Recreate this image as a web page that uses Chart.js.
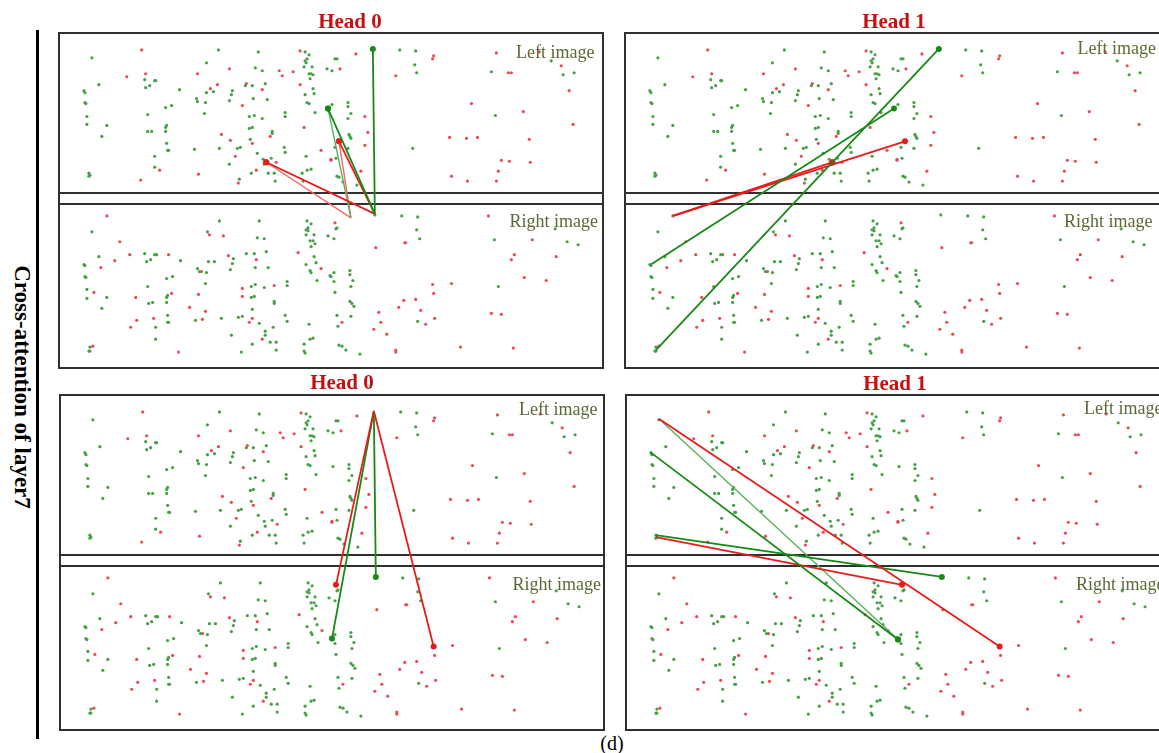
<!DOCTYPE html>
<html>
<head>
<meta charset="utf-8">
<script src="https://cdn.jsdelivr.net/npm/chart.js@4.4.1/dist/chart.umd.min.js"></script>
<style>
    html, body { margin: 0; padding: 0; background: #fff; }
    body {
        width: 1159px; height: 753px; overflow: hidden; position: relative;
        font-family: 'Liberation Serif', 'Times New Roman', serif;
    }
    canvas { position: absolute; }
    .title {
        position: absolute; font-weight: bold; font-size: 21px; line-height: 21px;
        color: #c41010; white-space: nowrap; transform: translateX(-50%);
    }
    .tag {
        position: absolute; font-size: 18px; line-height: 18px;
        color: #5a6a33; white-space: nowrap; transform: translateX(-100%);
    }
    #side {
        position: absolute; left: -178px; top: 375px; width: 400px; text-align: center;
        font-weight: bold; font-size: 23px; line-height: 24px; color: #000;
        transform: rotate(90deg);
    }
    #rule { position: absolute; left: 36px; top: 30px; width: 3px; height: 709px; background: #000; }
    #caption { position: absolute; left: 612px; top: 733px; font-size: 20px; line-height: 20px; transform: translateX(-50%); }
</style>
</head>
<body>
<div id="rule"></div>
<div id="side">Cross-attention of layer7</div>
<div id="caption">(d)</div>

<script>
// panel geometry (data units = pixels of the panel)
const PANEL_W = 546, PANEL_H = 337;
const LEFT_BOX_BOTTOM = 161, RIGHT_BOX_TOP = 172.5;
const LEFT_Y0 = -1, RIGHT_Y0 = 172;   // where y=0 of each image sits inside a panel
const PAD = 3;

// keypoints of the left image [x, y]
const leftGreen = [
    [33,26],[40,53],[25,59],[26,61],[26,71],[27,72],[28,85],[28,93],[48,94],[43,105],[30,142],[31,144],[30,145],
    [86,48],[96,49],[97,49],[87,56],[91,54],[89,83],[89,100],[93,100],[107,76],[113,74],[108,94],[107,96],[107,100],
    [108,112],[109,119],[110,119],[96,125],[96,136],[121,58],[136,118],
    [148,31],[160,18],[138,67],[139,70],[148,61],[155,60],[147,71],[146,82],[161,117],[171,133],[173,63],[174,59],
    [171,69],[179,117],[182,116],[181,148],
    [200,20],[197,36],[204,39],[187,54],[194,54],[207,52],[195,67],[209,68],[191,85],[196,84],[204,87],[191,97],
    [194,96],[214,100],[214,102],[192,108],[199,122],[205,128],[213,127],[206,133],[193,142],[210,142],[216,142],
    [217,150],[227,81],[227,85],[226,116],[227,121],
    [247,20],[251,23],[249,27],[247,29],[248,31],[246,35],[254,35],[251,42],[253,42],[255,43],[252,47],[255,57],
    [256,62],[247,63],[249,71],[251,72],[257,81],[269,37],[274,73],[248,125],[249,139],[253,138],[244,142],[245,150],
    [277,27],[279,27],[274,39],[290,71],[290,75],[293,82],[290,87],[291,103],[292,105],[293,107],[277,116],[290,117],
    [278,127],[279,145],[281,146],[285,151],[299,154],
    [342,18],[358,19],[357,33],[359,41],[434,40],[438,84],[355,117],[494,29],[506,43],[517,41]
];
const leftRed = [
    [83,18],[68,45],[87,42],[101,139],[82,149],[139,42],[140,143],[152,57],[159,53],[171,37],[163,103],[172,109],
    [177,125],[180,152],[188,52],[184,74],[204,58],[194,112],[198,139],[212,105],[218,131],[221,39],[224,44],
    [235,40],[242,19],[242,53],[246,96],[263,119],[273,129],
    [298,22],[282,37],[307,85],[310,101],[307,114],[273,128],[303,140],[376,24],[375,27],[338,44],[439,21],
    [451,41],[454,41],[414,72],[466,80],[392,106],[409,107],[420,106],[472,108],[444,129],[452,130],[473,131],
    [441,140],[394,145],[410,150],[439,150],[504,34],[512,59],[516,93],[482,20]
];

// keypoints of the right image [x, y]
const rightGreen = [
    [33,28],[40,53],[25,61],[26,62],[26,73],[27,74],[28,86],[28,95],[48,94],[43,105],[31,144],[30,148],[31,148],
    [86,50],[96,51],[98,51],[88,58],[92,56],[89,83],[90,100],[94,99],[108,75],[114,73],[109,92],[108,94],[108,99],
    [109,112],[109,119],[110,119],[97,124],[97,136],[122,57],[137,117],
    [149,28],[161,17],[139,65],[141,68],[150,58],[156,58],[148,69],[147,80],[163,115],[173,132],[174,60],[175,55],
    [172,66],[180,114],[184,113],[183,149],
    [201,17],[199,34],[206,35],[188,50],[196,50],[208,48],[197,64],[210,64],[193,83],[197,81],[206,84],[193,94],
    [196,93],[216,98],[216,100],[194,106],[201,120],[207,128],[215,124],[207,132],[194,141],[212,139],[218,139],
    [218,147],[229,78],[229,82],[227,112],[229,118],
    [249,17],[253,20],[250,24],[248,26],[250,27],[248,31],[256,31],[252,37],[255,37],[257,40],[253,43],[256,53],
    [258,59],[248,61],[252,67],[253,69],[259,77],[270,32],[272,72],[251,121],[252,136],[255,135],[246,141],
    [246,148],[247,150],
    [344,12],[360,13],[359,26],[362,35],[279,24],[278,25],[276,35],[276,69],[273,73],[276,78],[292,67],[292,71],
    [295,77],[293,83],[277,89],[292,98],[294,100],[296,103],[279,112],[293,113],[280,123],[281,142],[284,143],
    [288,147],[302,151],[360,118],[437,36],[441,83],[498,25],[510,38],[521,41],[317,11]
];
const rightRed = [
    [48,12],[61,38],[42,64],[56,57],[35,89],[34,143],[71,51],[77,94],[72,124],[78,117],[95,115],[110,51],[113,90],
    [120,149],[131,104],[140,91],[143,68],[147,108],[144,116],[151,31],[165,32],[170,52],[198,56],[184,85],
    [184,93],[194,115],[191,119],[204,136],[216,82],[240,49],[263,65],
    [277,19],[318,44],[347,39],[348,39],[431,12],[375,81],[376,90],[394,80],[358,96],[346,97],[341,104],[363,107],
    [321,109],[377,115],[368,121],[284,119],[323,119],[316,126],[329,131],[338,147],[338,149],[403,144],[456,145],
    [475,36],[457,51],[454,56],[467,74],[489,77],[499,53],[434,110],[444,111]
];

// attention links: [query x, query y, key x, key y, colour, strong]
// top row: query in left image, key in right image; bottom row the other way round
const head0TopLinks = [
    [315,17, 317,10, 'g', 1],
    [270,77, 293,14, 'g', 0],
    [270,77, 317,10, 'g', 1],
    [281,110, 293,14, 'r', 0],
    [281,110, 317,10, 'r', 1],
    [208,131, 293,14, 'r', 0],
    [208,131, 317,10, 'r', 1]
];
const head1TopLinks = [
    [315,17, 31,147, 'g', 1],
    [270,77, 26,61, 'g', 1],
    [281,110, 48,12, 'r', 1],
    [208,131, 47,13, 'r', 0],
    [208,131, 48,12, 'r', 1]
];
const head0BottomLinks = [
    [277,19, 315,17, 'r', 1],
    [317,11, 315,17, 'g', 1],
    [273,73, 315,17, 'g', 1],
    [375,81, 315,17, 'r', 1]
];
const head1BottomLinks = [
    [375,81, 33,25, 'r', 1],
    [273,74, 33,25, 'g', 0],
    [273,74, 25,59, 'g', 1],
    [317,11, 30,142, 'g', 1],
    [277,19, 30,144, 'r', 1]
];

const COLORS = {
    g: { dot: '#47a047', line: '#168a16', weak: '#58b058' },
    r: { dot: '#ec4b55', line: '#e81c1c', weak: '#f06868' }
};

const panels = [
    { x: 58,  y: 32,  title: 'Head 0', titleX: 350, titleTop: 11,  links: head0TopLinks,    query: 'left',  leftTag: [26, 9.5], rightTag: [22, 6] },
    { x: 624, y: 32,  title: 'Head 1', titleX: 894, titleTop: 11,  links: head1TopLinks,    query: 'left',  leftTag: [21.5, 14], rightTag: [22, 17.5] },
    { x: 59,  y: 394, title: 'Head 0', titleX: 342, titleTop: 372, links: head0BottomLinks, query: 'right', leftTag: [21, 7.5], rightTag: [23, 4] },
    { x: 625, y: 394, title: 'Head 1', titleX: 895, titleTop: 373, links: head1BottomLinks, query: 'right', leftTag: [20, 8.5], rightTag: [23, 6.5] }
];

const framePlugin = {
    id: 'frame',
    beforeDatasetsDraw(chart) {
        const { ctx, chartArea: a, scales: { y } } = chart;
        ctx.save();
        ctx.strokeStyle = '#303030';
        ctx.lineWidth = 2;
        ctx.strokeRect(a.left, a.top, a.width, a.height);
        [LEFT_BOX_BOTTOM, RIGHT_BOX_TOP].forEach(v => {
            const py = Math.round(y.getPixelForValue(v));
            ctx.beginPath();
            ctx.moveTo(a.left, py);
            ctx.lineTo(a.right, py);
            ctx.stroke();
        });
        ctx.restore();
    }
};

const toLeft = p => ({ x: p[0], y: p[1] + LEFT_Y0 });
const toRight = p => ({ x: p[0], y: p[1] + RIGHT_Y0 });

const dots = (pts, map, color) => ({
    data: pts.map(map),
    backgroundColor: color,
    borderWidth: 0,
    pointRadius: 1.6,
    showLine: false,
    order: 3
});

const makePanel = (p) => {
    const canvas = document.createElement('canvas');
    canvas.width = PANEL_W + PAD * 2;
    canvas.height = PANEL_H + PAD * 2;
    canvas.style.left = (p.x - PAD) + 'px';
    canvas.style.top = (p.y - PAD) + 'px';
    document.body.appendChild(canvas);

    const qMap = p.query === 'left' ? toLeft : toRight;
    const kMap = p.query === 'left' ? toRight : toLeft;

    const linkSets = p.links.map(l => {
        const c = COLORS[l[4]];
        return {
            data: [qMap([l[0], l[1]]), kMap([l[2], l[3]])],
            showLine: true,
            borderColor: l[5] ? c.line : c.weak,
            borderWidth: l[5] ? 1.8 : 1.4,
            pointRadius: [3, 0],
            pointBackgroundColor: c.line,
            pointBorderWidth: 0,
            order: l[5] ? 0 : 1
        };
    });

    new Chart(canvas, {
        type: 'scatter',
        data: {
            datasets: [
                dots(leftGreen, toLeft, COLORS.g.dot),
                dots(leftRed, toLeft, COLORS.r.dot),
                dots(rightGreen, toRight, COLORS.g.dot),
                dots(rightRed, toRight, COLORS.r.dot),
                ...linkSets
            ]
        },
        options: {
            responsive: false,
            animation: false,
            devicePixelRatio: 1,
            layout: { padding: PAD },
            plugins: { legend: { display: false }, tooltip: { enabled: false } },
            scales: {
                x: { type: 'linear', min: 0, max: PANEL_W, display: false },
                y: { type: 'linear', min: 0, max: PANEL_H, reverse: true, display: false }
            }
        },
        plugins: [framePlugin]
    });

    // texts
    const addText = (cls, text, left, top) => {
        const d = document.createElement('div');
        d.className = cls;
        d.textContent = text;
        d.style.left = left + 'px';
        d.style.top = top + 'px';
        document.body.appendChild(d);
    };
    addText('title', p.title, p.titleX, p.titleTop);
    addText('tag', 'Left image', p.x + PANEL_W - p.leftTag[1], p.y + p.leftTag[0] - 15);
    addText('tag', 'Right image', p.x + PANEL_W - p.rightTag[1], p.y + RIGHT_BOX_TOP + p.rightTag[0] - 15);
};

panels.forEach(makePanel);
</script>
</body>
</html>
